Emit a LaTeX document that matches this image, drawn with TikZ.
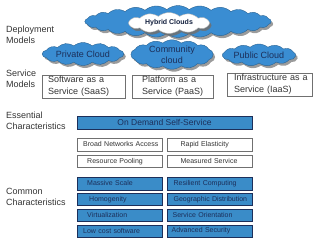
\documentclass[tikz,border=0pt]{standalone}
\usepackage{fontspec}
\setmainfont{Liberation Sans}
\usetikzlibrary{positioning,shapes.symbols,shadows}
\definecolor{skyblue}{HTML}{3A8DD2}
\definecolor{boxblue}{HTML}{3A8CC8}
\definecolor{navy}{HTML}{1C2F5A}
\definecolor{bk80}{HTML}{333333}
\definecolor{bk60}{HTML}{707070}
\tikzset{
  cloudnode/.style={
    cloud, cloud puffs=#1, cloud puff arc=80, cloud ignores aspect,
    draw=skyblue!70!black, fill=skyblue, text=navy,
    font=\fontsize{9}{11}\selectfont, align=center, inner sep=0pt,
    drop shadow={shadow xshift=2pt, shadow yshift=-2.5pt, fill=bk60, opacity=.7}
  },
  cloudnode/.default=11,
  layerlabel/.style={
    anchor=west, align=left, text=bk80,
    font=\fontsize{9}{11}\selectfont, inner sep=0pt
  },
  modelbox/.style={
    rectangle, draw=bk60, fill=white, text=bk80,
    font=\fontsize{9}{12}\selectfont, align=left,
    minimum height=23pt, inner xsep=2pt, inner ysep=0pt,
    execute at begin node={\leftskip=#1}
  },
  modelbox/.default=4pt,
  charbox/.style={
    rectangle, draw=bk60, fill=white, text=bk80,
    font=\fontsize{7}{8}\selectfont, align=left,
    minimum height=12.5pt, inner ysep=0pt,
    inner xsep=2pt, text width=81pt,
    execute at begin node={\leftskip=#1}
  },
  charbox/.default=8pt,
  featbox/.style={
    charbox=#1, draw=navy, fill=boxblue, text=navy
  },
  featbox/.default=8pt,
}
\begin{document}
\begin{tikzpicture}[x=1pt, y=-1pt]
  \useasboundingbox (0,0) rectangle (320,244);
  % deployment models
  \node[cloudnode=26, minimum width=186pt, minimum height=32pt] (hybrid) at (178,21.5) {};
  \node[cloudnode=12, fill=white, draw=bk60!50, minimum width=81pt, minimum height=21pt,
        font=\fontsize{7}{8}\selectfont\bfseries, text=navy!70!black,
        drop shadow={shadow xshift=1.5pt, shadow yshift=-2pt, fill=bk60, opacity=.6}]
        (hybridin) at (169,23) {Hybrid Clouds};
  \node[cloudnode=14, minimum width=81pt, minimum height=23pt] (private) at (83,54) {Private Cloud};
  \node[cloudnode=14, minimum width=82pt, minimum height=27pt] (community) at (172,54.5) {Community\\cloud};
  \node[cloudnode=13, minimum width=73pt, minimum height=22pt] (public) at (259,55) {Public Cloud};
  \node[layerlabel] (deploylbl) at (6,34.5) {Deployment\\Models};
  % service models
  \node[layerlabel] (servicelbl) at (6,78.5) {Service\\Models};
  \node[modelbox, text width=79pt] (saas) at (83.5,86.5) {Software as a\\Service (SaaS)};
  \node[modelbox=8pt, text width=77pt] (paas) at (172.5,86.5) {Platform as a\\Service (PaaS)};
  \node[modelbox=5pt, text width=81pt] (iaas) at (269.5,84.5) {Infrastructure as a\\Service (IaaS)};
  % essential characteristics
  \node[layerlabel] (essentiallbl) at (6,121) {Essential\\Characteristics};
  \node[rectangle, draw=navy, fill=boxblue, text=navy, font=\fontsize{8.5}{10}\selectfont,
        minimum width=175pt, minimum height=13pt, inner sep=0pt] (ondemand) at (164.5,122.5) {On Demand Self-Service};
  \node[charbox=4pt, anchor=north west] (broad) at (77,138) {Broad Networks Access};
  \node[charbox=11pt, right=5pt of broad] (rapid) {Rapid Elasticity};
  \node[charbox=8pt, below=4pt of broad] (pooling) {Resource Pooling};
  \node[charbox=11pt, right=5pt of pooling] (measured) {Measured Service};
  % common characteristics
  \node[layerlabel] (commonlbl) at (6,197) {Common\\Characteristics};
  \node[featbox=8pt, anchor=north west] (massive) at (77,177) {Massive Scale};
  \node[featbox=10pt, below=3pt of massive] (homog) {Homogenity};
  \node[featbox=8pt, below=3pt of homog] (virt) {Virtualization};
  \node[featbox=4pt, below=3pt of virt] (lowcost) {Low cost software};
  \node[featbox=4pt, right=5pt of massive] (resilient) {Resilient Computing};
  \node[featbox=4pt, right=5pt of homog] (geo) {Geographic Distribution};
  \node[featbox=3pt, right=5pt of virt] (orient) {Service Orientation};
  \node[featbox=2pt, right=5pt of lowcost] (security) {Advanced Security};
\end{tikzpicture}
\end{document}
